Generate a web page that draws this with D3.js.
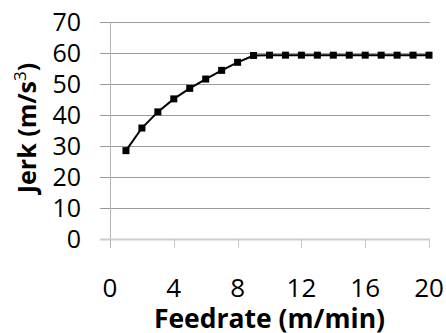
<!DOCTYPE html>
<html lang="en">
<head>
    <meta charset="UTF-8">
    <title>Jerk vs Feedrate</title>
    <script src="https://cdn.jsdelivr.net/npm/d3@7"></script>
    <style>
        body { margin: 0; background: #fff; }
        text { font-family: "Open Sans", sans-serif; fill: #000; }
        .grid line { stroke: #9a9a9a; stroke-width: 1px; }
    </style>
</head>
<body>
<script>
    // data
    const feedrate = [1, 2, 3, 4, 5, 6, 7, 8, 9, 10, 11, 12, 13, 14, 15, 16, 17, 18, 19, 20]
    const jerk = [28.5, 35.8, 41.0, 45.2, 48.6, 51.6, 54.4, 57.0, 59.2, 59.3, 59.3, 59.3,
        59.3, 59.3, 59.3, 59.3, 59.3, 59.3, 59.3, 59.3]
    const xTicks = [0, 4, 8, 12, 16, 20]
    const yTicks = [0, 10, 20, 30, 40, 50, 60, 70]

    const width = 446, height = 333
    const margin = {top: 22, right: 17, bottom: 94, left: 110}
    const w = width - margin.left - margin.right,
        h = height - margin.top - margin.bottom

    const x = d3.scaleLinear().domain([0, 20]).range([0, w])
    const y = d3.scaleLinear().domain([0, 70]).range([h, 0])

    const svg = d3.select("body").append("svg").attr("width", width).attr("height", height)
    const g = svg.append("g").attr("transform", `translate(${[margin.left, margin.top]})`)

    // horizontal gridlines, drawn a bit past the axis like ticks
    g.append("g").attr("class", "grid")
        .selectAll("line").data(yTicks.filter(d => d > 0))
        .join("line")
        .attr("x1", -10).attr("x2", w + 1)
        .attr("y1", d => Math.round(y(d)) + 0.5).attr("y2", d => Math.round(y(d)) + 0.5)

    // y axis line
    g.append("line")
        .attr("x1", 0.5).attr("x2", 0.5).attr("y1", y(70)).attr("y2", h + 9)
        .attr("stroke", "#b4b4b4")

    // x axis
    g.append("line")
        .attr("x1", -10).attr("x2", w + 1)
        .attr("y1", h + 0.5).attr("y2", h + 0.5)
        .attr("stroke", "#cccccc").attr("stroke-width", 2)
    g.append("g").selectAll("line").data(xTicks.filter(d => d > 0))
        .join("line")
        .attr("x1", d => Math.round(x(d)) + 0.5).attr("x2", d => Math.round(x(d)) + 0.5)
        .attr("y1", h).attr("y2", h + 9)
        .attr("stroke", "#c8c8c8")

    // tick labels
    g.append("g").selectAll("text").data(yTicks)
        .join("text")
        .attr("x", -29).attr("y", d => y(d))
        .attr("dy", "0.36em")
        .attr("text-anchor", "end")
        .style("font-size", "25px")
        .text(d => d)

    g.append("g").selectAll("text").data(xTicks)
        .join("text")
        .attr("x", d => x(d)).attr("y", h + 58)
        .attr("text-anchor", "middle")
        .style("font-size", "26px")
        .text(d => d)

    // axis titles
    svg.append("text")
        .attr("x", margin.left + w / 2).attr("y", 328)
        .attr("text-anchor", "middle")
        .style("font-size", "26.5px").style("font-weight", "bold")
        .text("Feedrate (m/min)")

    const yt = svg.append("text")
        .attr("transform", `translate(36,${128}) rotate(-90)`)
        .attr("text-anchor", "middle")
        .style("font-size", "25px").style("font-weight", "bold")
    yt.append("tspan").text("Jerk (m/s")
    yt.append("tspan").attr("dy", -10).style("font-size", "17px").style("font-weight", "normal").text("3")
    yt.append("tspan").attr("dy", 10).text(")")

    // series
    const pts = feedrate.map((f, i) => [f, jerk[i]])
    g.append("path")
        .datum(pts)
        .attr("fill", "none").attr("stroke", "#000").attr("stroke-width", 2)
        .attr("d", d3.line().x(d => x(d[0])).y(d => y(d[1])))

    g.append("g").selectAll("rect").data(pts)
        .join("rect")
        .attr("x", d => x(d[0]) - 3.5).attr("y", d => y(d[1]) - 3.5)
        .attr("width", 7).attr("height", 7)
        .attr("fill", "#000")
</script>
</body>
</html>
